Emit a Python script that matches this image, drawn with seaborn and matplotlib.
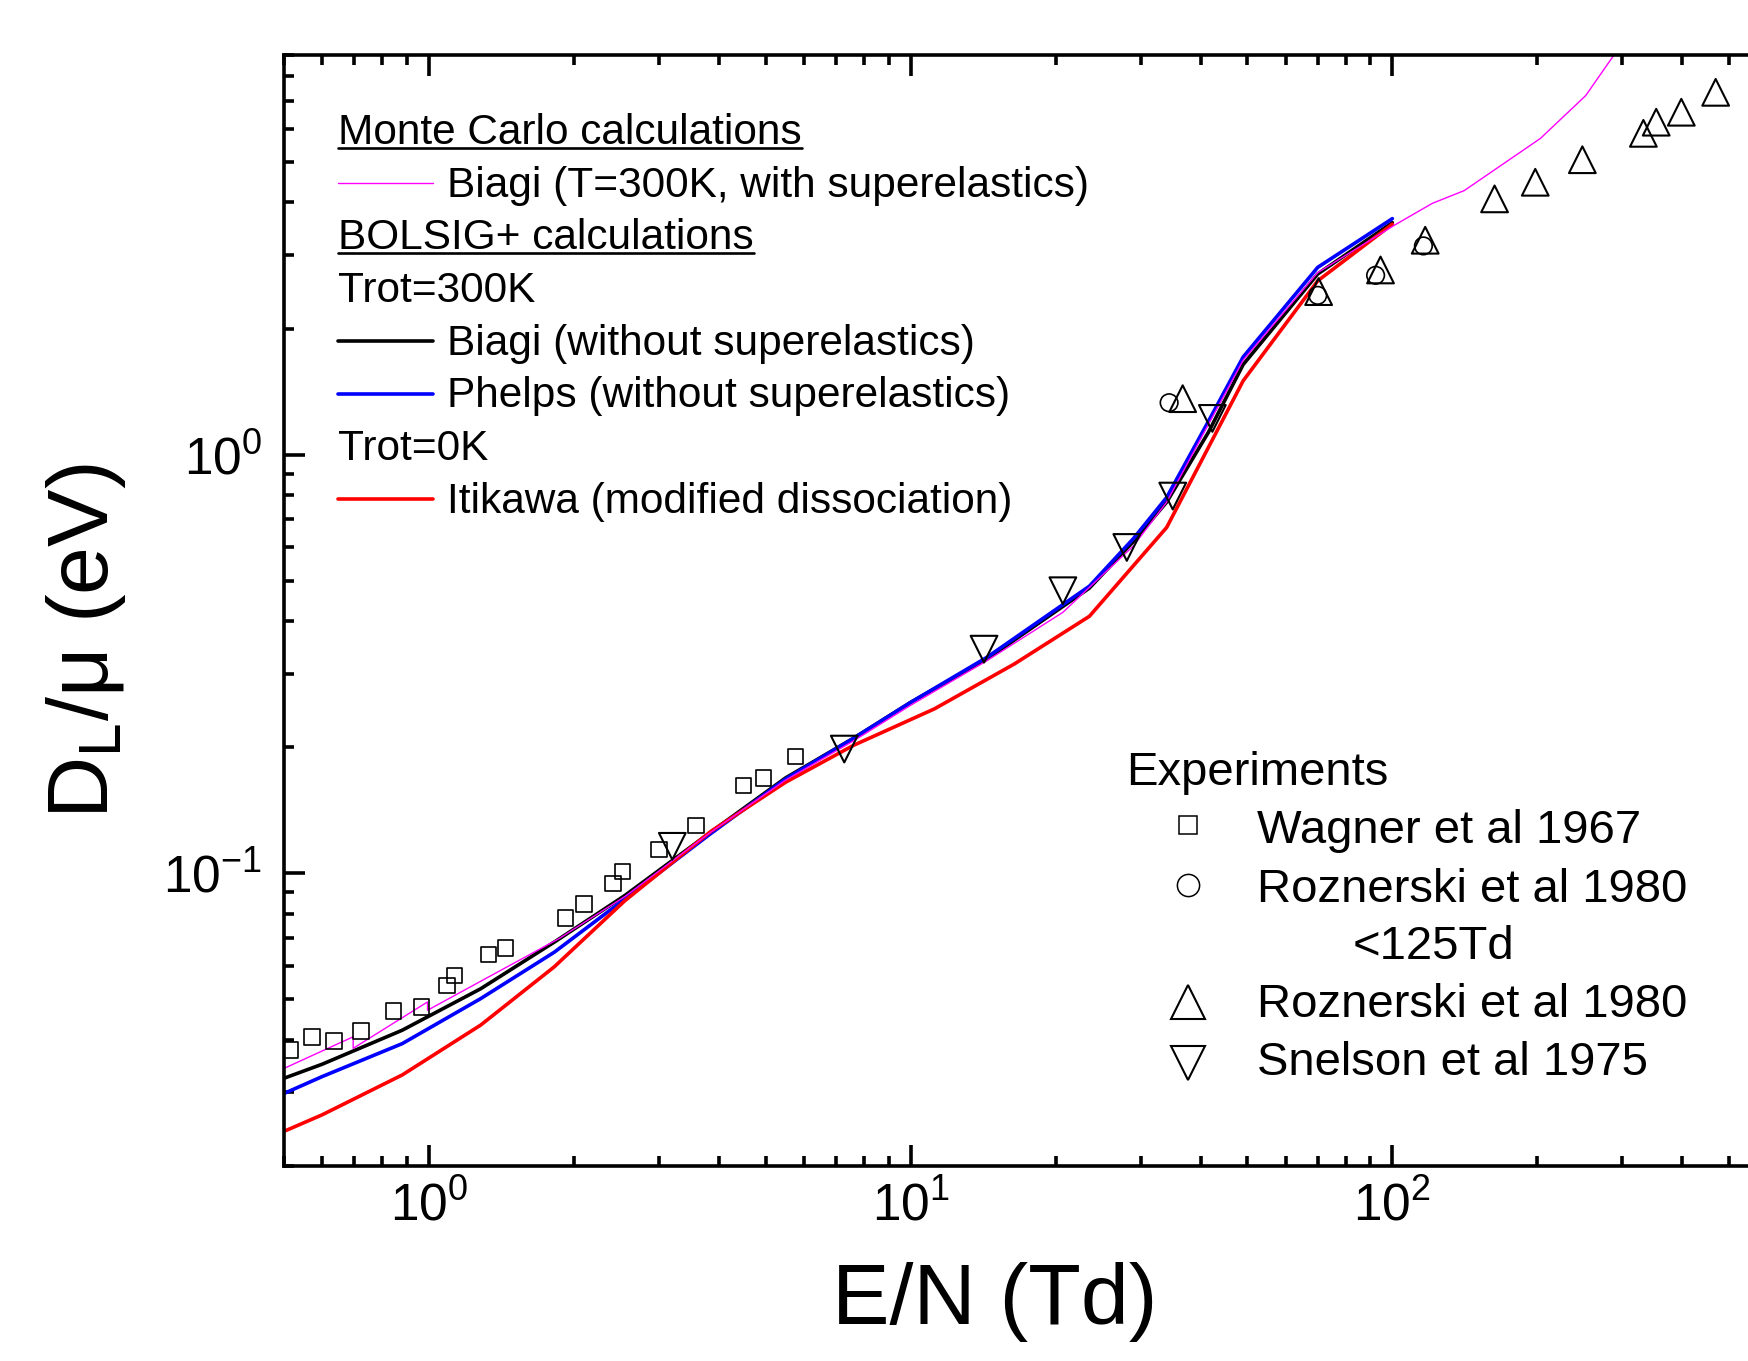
import numpy as np
import matplotlib
matplotlib.use('Agg')
import matplotlib.pyplot as plt
import seaborn as sns
from matplotlib.lines import Line2D
from matplotlib.ticker import LogLocator, NullFormatter

# BOLSIG+ Trot=300K, Biagi (without superelastics)
biagi_x = [0.5, 0.6, 0.88, 1.28, 1.82, 2.55, 3.83, 5.5, 7.6, 10, 14.4, 23.5, 29, 34, 41.5, 49, 70, 100]
biagi_y = [0.0324, 0.035, 0.0422, 0.053, 0.0685, 0.0885, 0.125, 0.169, 0.21, 0.256, 0.325, 0.48, 0.62, 0.77, 1.13, 1.64, 2.7, 3.58]

# BOLSIG+ Trot=300K, Phelps (without superelastics)
phelps_x = [0.5, 0.6, 0.88, 1.28, 1.82, 2.55, 3.83, 5.5, 7.6, 10, 14.4, 23.5, 29, 34, 41.5, 49, 70, 100]
phelps_y = [0.0298, 0.0327, 0.0392, 0.0502, 0.0648, 0.0868, 0.124, 0.168, 0.21, 0.256, 0.328, 0.485, 0.63, 0.79, 1.2, 1.71, 2.8, 3.66]

# BOLSIG+ Trot=0K, Itikawa (modified dissociation)
itikawa_x = [0.5, 0.6, 0.88, 1.28, 1.82, 2.55, 3.85, 5.5, 7.6, 11.2, 16.4, 23.5, 34, 49, 70, 100]
itikawa_y = [0.0242, 0.0265, 0.033, 0.0434, 0.0598, 0.086, 0.126, 0.165, 0.202, 0.247, 0.316, 0.411, 0.67, 1.5, 2.6, 3.55]

# Monte Carlo, Biagi (T=300K, with superelastics)
mc_x = [0.5, 0.696, 0.696, 0.993, 0.993, 1.86, 2.55, 3.83, 5.5, 7.6, 10, 14.4, 20.7, 29, 34, 41.5, 49, 70, 101, 121, 141, 203, 252, 300]
mc_y = [0.0342, 0.0407, 0.0382, 0.0493, 0.0471, 0.0698, 0.088, 0.125, 0.167, 0.207, 0.252, 0.322, 0.42, 0.605, 0.77, 1.18, 1.68, 2.72, 3.53, 3.98, 4.27, 5.69, 7.2, 9.6]

# experiments
wagner_x = [0.514, 0.571, 0.635, 0.723, 0.843, 0.964, 1.09, 1.13, 1.33, 1.44, 1.92, 2.1, 2.41, 2.52, 3.0, 3.58, 4.5, 4.95, 5.77]
wagner_y = [0.0378, 0.0407, 0.0398, 0.042, 0.0469, 0.048, 0.054, 0.057, 0.064, 0.0663, 0.0783, 0.0844, 0.0946, 0.101, 0.114, 0.13, 0.162, 0.169, 0.19]

rozn_low_x = [34.4, 70.0, 92.3, 116]
rozn_low_y = [1.33, 2.4, 2.68, 3.15]

rozn_x = [36.7, 70.3, 94.5, 117, 163, 198, 248, 332, 353, 398, 469]
rozn_y = [1.36, 2.45, 2.76, 3.25, 4.08, 4.47, 5.06, 5.85, 6.22, 6.57, 7.33]

snelson_x = [3.2, 7.28, 14.2, 20.7, 28.1, 35, 42.3]
snelson_y = [0.116, 0.198, 0.343, 0.473, 0.6, 0.796, 1.22]

sns.set_style('ticks')
plt.rcParams['font.family'] = ['Liberation Sans', 'DejaVu Sans']
plt.rcParams['mathtext.fontset'] = 'custom'
plt.rcParams['mathtext.rm'] = 'Liberation Sans'
plt.rcParams['mathtext.it'] = 'Liberation Sans:italic'
plt.rcParams['mathtext.default'] = 'regular'
plt.rcParams['axes.unicode_minus'] = False
plt.rcParams['text.color'] = 'black'
plt.rcParams['axes.labelcolor'] = 'black'
plt.rcParams['xtick.color'] = 'black'
plt.rcParams['ytick.color'] = 'black'

W, H = 1749, 1361
fig = plt.figure(figsize=(W / 100, H / 100), dpi=100)
# axes runs past the right edge of the picture, like the cropped original
ax = fig.add_axes([284 / W, 1 - 1166 / H, (1852 - 284) / W, (1166 - 55) / H])
ax.set_xscale('log')
ax.set_yscale('log')

sns.lineplot(x=biagi_x, y=biagi_y, color='black', lw=2.6, estimator=None, sort=False, ax=ax)
sns.lineplot(x=phelps_x, y=phelps_y, color='#0000FF', lw=2.6, estimator=None, sort=False, ax=ax)
sns.lineplot(x=itikawa_x, y=itikawa_y, color='#FF0000', lw=2.6, estimator=None, sort=False, ax=ax)
sns.lineplot(x=mc_x, y=mc_y, color='#FF00FF', lw=1.0, estimator=None, sort=False, ax=ax)

sns.scatterplot(x=wagner_x, y=wagner_y, marker='s', s=125, facecolors='none', edgecolor='black', linewidth=1.2, ax=ax, zorder=5)
sns.scatterplot(x=rozn_low_x, y=rozn_low_y, marker='o', s=160, facecolors='none', edgecolor='black', linewidth=1.2, ax=ax, zorder=5)
sns.scatterplot(x=rozn_x, y=rozn_y, marker='^', s=370, facecolors='none', edgecolor='black', linewidth=1.5, ax=ax, zorder=5)
sns.scatterplot(x=snelson_x, y=snelson_y, marker='v', s=370, facecolors='none', edgecolor='black', linewidth=1.5, ax=ax, zorder=5)

ax.set_xlim(0.5, 900)
ax.set_ylim(0.02, 9)
ax.yaxis.set_minor_locator(LogLocator(base=10, subs=np.arange(2, 10)))
ax.xaxis.set_minor_locator(LogLocator(base=10, subs=np.arange(2, 10)))
ax.xaxis.set_minor_formatter(NullFormatter())
ax.yaxis.set_minor_formatter(NullFormatter())

for sp in ax.spines.values():
    sp.set_linewidth(2.6)
    sp.set_color('black')
ax.tick_params(which='both', direction='in', top=True, right=True, width=2.6, color='black')
ax.tick_params(which='major', length=15, labelsize=37)
ax.tick_params(which='minor', length=7.5)
ax.tick_params(axis='x', which='major', pad=11)
ax.tick_params(axis='y', which='major', pad=16)

ax.set_xlabel('E/N (Td)', fontsize=62)
ax.set_ylabel('D$_{L}$/\u03bc (eV)', fontsize=62)
ax.xaxis.set_label_coords((995 - 284) / 1568, (1166 - 1262) / 1111)
ax.yaxis.set_label_coords((128 - 284) / 1568, (1166 - 641) / 1111)


def fx(px):
    return px / W


def fy(py):
    return 1 - py / H


# upper legend: calculations
fs1 = 30.5
base0, step = 144, 52.65
upper = [
    ('head', 'Monte Carlo calculations', None, 0),
    ('line', 'Biagi (T=300K, with superelastics)', '#FF00FF', 1.0),
    ('head', 'BOLSIG+ calculations', None, 0),
    ('text', 'Trot=300K', None, 0),
    ('line', 'Biagi (without superelastics)', 'black', 2.6),
    ('line', 'Phelps (without superelastics)', '#0000FF', 2.6),
    ('text', 'Trot=0K', None, 0),
    ('line', 'Itikawa (modified dissociation)', '#FF0000', 2.6),
]
heads = []
for i, (kind, txt, col, lw) in enumerate(upper):
    yb = base0 + step * i
    if kind == 'line':
        fig.add_artist(Line2D([fx(338), fx(433)], [fy(yb - 13.5), fy(yb - 13.5)],
                              transform=fig.transFigure, color=col, lw=lw))
        fig.text(fx(446.7), fy(yb), txt, fontsize=fs1, va='baseline', ha='left')
    else:
        t = fig.text(fx(338), fy(yb), txt, fontsize=fs1, va='baseline', ha='left')
        if kind == 'head':
            heads.append((t, yb))

fig.canvas.draw()
renderer = fig.canvas.get_renderer()
for t, yb in heads:
    bb = t.get_window_extent(renderer)
    fig.add_artist(Line2D([fx(bb.x0), fx(bb.x1)], [fy(yb + 3.5), fy(yb + 3.5)],
                          transform=fig.transFigure, color='black', lw=1.9))

# lower legend: experiments
fs2 = 34
fig.text(fx(1125.7), fy(785), 'Experiments', fontsize=fs2, va='baseline', ha='left')
lower = [
    ('s', 12.5, 1.1, 825, 843.3, 'Wagner et al 1967'),
    ('o', 16.0, 1.1, 885, 901.7, 'Roznerski et al 1980'),
    ('^', 25.0, 1.5, 1001.7, 1016.7, 'Roznerski et al 1980'),
    ('v', 24.0, 1.5, 1063.3, 1075, 'Snelson et al 1975'),
]
for mk, ms, mew, ym, yb, txt in lower:
    fig.add_artist(Line2D([fx(1188)], [fy(ym)], transform=fig.transFigure, marker=mk,
                          ms=ms, mfc='none', mec='black', mew=mew, ls='none'))
    fig.text(fx(1257), fy(yb), txt, fontsize=fs2, va='baseline', ha='left')
fig.text(fx(1352.5), fy(959.3), '<125Td', fontsize=fs2, va='baseline', ha='left')

fig.savefig('out.png', dpi=100)
